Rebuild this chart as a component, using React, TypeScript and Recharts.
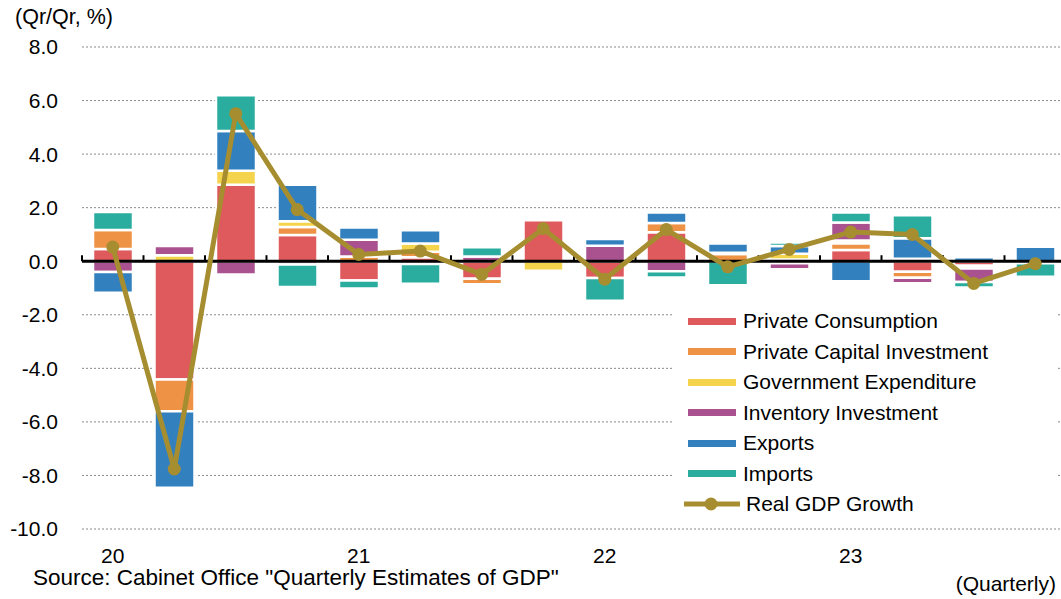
import React from 'react';
import { ComposedChart, Bar, Line, XAxis, YAxis, CartesianGrid, ReferenceLine } from 'recharts';

const quarters = [
  '2020Q1', '2020Q2', '2020Q3', '2020Q4',
  '2021Q1', '2021Q2', '2021Q3', '2021Q4',
  '2022Q1', '2022Q2', '2022Q3', '2022Q4',
  '2023Q1', '2023Q2', '2023Q3', '2023Q4',
];

const privateConsumption = [0.46, -4.42, 2.86, 0.98, -0.72, 0.15, -0.65, 1.53, -0.63, 1.08, 0, 0.06, 0.42, -0.39, -0.17, -0.08];
const privateCapitalInvestment = [0.71, -1.18, 0, 0.3, 0.18, 0.2, -0.21, 0, 0, 0.35, 0.27, -0.08, 0.25, -0.23, -0.1, 0];
const governmentExpenditure = [0, 0.22, 0.52, 0.21, 0, 0.31, 0, -0.36, 0, 0, 0.05, 0.22, 0.1, 0.09, 0, 0];
const inventoryInvestment = [-0.4, 0.35, -0.5, -0.12, 0.62, -0.1, 0.18, 0, 0.58, -0.37, 0, -0.22, 0.68, -0.2, -0.51, 0];
const exportsContribution = [-0.78, -2.86, 1.48, 1.37, 0.46, 0.5, 0, 0, 0.25, 0.39, 0.34, 0.29, -0.75, 0.77, 0.15, 0.54];
const importsContribution = [0.67, 0, 1.34, -0.84, -0.3, -0.74, 0.34, 0, -0.85, -0.24, -0.9, 0.13, 0.37, 0.86, -0.2, -0.5];
const realGdpGrowth = [0.53, -7.76, 5.51, 1.93, 0.25, 0.38, -0.49, 1.22, -0.67, 1.18, -0.21, 0.44, 1.09, 1.0, -0.83, -0.09];

const yTicks = [8, 6, 4, 2, 0, -2, -4, -6, -8, -10];

const series = [
  { key: 'pc', name: 'Private Consumption', color: '#DE5A5C', values: privateConsumption },
  { key: 'pci', name: 'Private Capital Investment', color: '#EE9245', values: privateCapitalInvestment },
  { key: 'gov', name: 'Government Expenditure', color: '#F3D44C', values: governmentExpenditure },
  { key: 'inv', name: 'Inventory Investment', color: '#A9528F', values: inventoryInvestment },
  { key: 'exp', name: 'Exports', color: '#3380BF', values: exportsContribution },
  { key: 'imp', name: 'Imports', color: '#2AAD9F', values: importsContribution },
];
const gdpSeries = { key: 'gdp', name: 'Real GDP Growth', color: '#A68E30' };

const data = quarters.map((q, i) => {
  const row: Record<string, any> = { q, gdp: realGdpGrowth[i] };
  series.forEach((s) => {
    row[s.key] = s.values[i];
  });
  return row;
});

const FONT = '"Liberation Sans", Arial, Helvetica, sans-serif';

// zero axis line with small upward tick marks at each category boundary
function ZeroAxis(props: any) {
  const { x1, x2, y1 } = props;
  const n = quarters.length;
  const step = (x2 - x1) / n;
  const ticks = [];
  for (let i = 0; i <= n; i++) {
    const x = x1 + i * step;
    ticks.push(<line key={i} x1={x} x2={x} y1={y1} y2={y1 - 6} stroke="#000" strokeWidth={2} />);
  }
  return (
    <g>
      <line x1={x1} x2={x2} y1={y1} y2={y1} stroke="#000" strokeWidth={3} />
      {ticks}
    </g>
  );
}

function LegendBox() {
  return (
    <div
      style={{
        position: 'absolute',
        left: 672,
        top: 306,
        width: 384,
        height: 216,
        background: '#fff',
        fontFamily: FONT,
        fontSize: 21,
        color: '#000',
      }}
    >
      {series.map((s) => (
        <div key={s.key} style={{ height: 30.5, display: 'flex', alignItems: 'center' }}>
          <div
            style={{
              marginLeft: 16,
              width: 48,
              height: 7,
              background: s.color,
              marginRight: 7,
            }}
          />
          <span style={{ whiteSpace: 'nowrap' }}>{s.name}</span>
        </div>
      ))}
      <div style={{ height: 30.5, display: 'flex', alignItems: 'center' }}>
        <svg width={60} height={16} style={{ marginLeft: 11, marginRight: 3 }}>
          <line x1={1} y1={8} x2={57} y2={8} stroke={gdpSeries.color} strokeWidth={5} />
          <circle cx={28} cy={8} r={6.5} fill={gdpSeries.color} />
        </svg>
        <span style={{ whiteSpace: 'nowrap' }}>{gdpSeries.name}</span>
      </div>
    </div>
  );
}

export default function App() {
  return (
    <div
      style={{
        position: 'absolute',
        left: 0,
        top: 0,
        width: 1061,
        height: 599,
        overflow: 'hidden',
        background: '#fff',
        fontFamily: FONT,
      }}
    >
      <ComposedChart
        width={1070}
        height={599}
        data={data}
        stackOffset="sign"
        margin={{ top: 47, right: 4, bottom: 30, left: 0 }}
      >
        <CartesianGrid vertical={false} stroke="#8a8a8a" strokeDasharray="2 2" />
        <XAxis
          dataKey="q"
          height={40}
          axisLine={false}
          tickLine={false}
          tickSize={0}
          tickMargin={19}
          interval={0}
          tick={{ fill: '#000', fontSize: 21, fontFamily: FONT }}
          tickFormatter={(v: string) => (v.endsWith('Q1') ? v.slice(2, 4) : '')}
        />
        <YAxis
          width={82}
          domain={[-10, 8]}
          ticks={yTicks}
          interval={0}
          axisLine={false}
          tickLine={false}
          tickSize={0}
          tickMargin={24}
          tick={{ fill: '#000', fontSize: 21, fontFamily: FONT }}
          tickFormatter={(v: number) => v.toFixed(1)}
        />
        {series.map((s) => (
          <Bar
            key={s.key}
            dataKey={s.key}
            name={s.name}
            stackId="contrib"
            fill={s.color}
            stroke="#fff"
            strokeWidth={2.5}
            barSize={40}
            isAnimationActive={false}
          />
        ))}
        <ReferenceLine y={0} stroke="#000" strokeWidth={3} zIndex={350} shape={ZeroAxis} />
        <Line
          dataKey="gdp"
          name={gdpSeries.name}
          type="linear"
          stroke={gdpSeries.color}
          strokeWidth={5}
          dot={{ r: 6.5, fill: gdpSeries.color, stroke: gdpSeries.color, strokeWidth: 0 }}
          activeDot={false}
          isAnimationActive={false}
          zIndex={450}
        />
      </ComposedChart>
      <LegendBox />
      <div style={{ position: 'absolute', left: 15, top: 7, fontSize: 21.5, lineHeight: '21px', whiteSpace: 'nowrap' }}>
        (Qr/Qr, %)
      </div>
      <div style={{ position: 'absolute', left: 33, top: 567, fontSize: 22.5, lineHeight: '22px', whiteSpace: 'nowrap' }}>
        Source: Cabinet Office "Quarterly Estimates of GDP"
      </div>
      <div style={{ position: 'absolute', right: 5, top: 573, fontSize: 21, lineHeight: '21px', whiteSpace: 'nowrap' }}>
        (Quarterly)
      </div>
    </div>
  );
}
